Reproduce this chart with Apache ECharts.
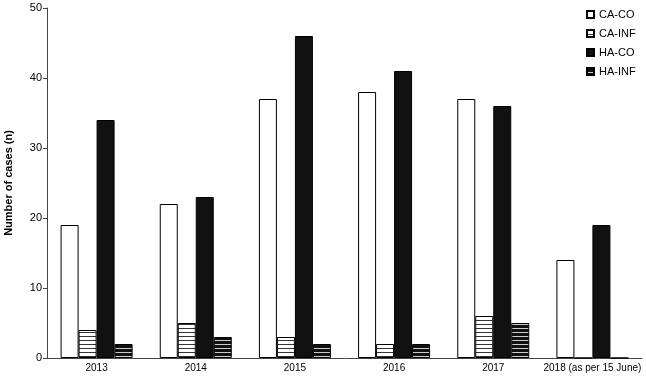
<!DOCTYPE html>
<html>
<head>
<meta charset="utf-8">
<script src="https://cdn.jsdelivr.net/npm/echarts@6/dist/echarts.min.js"></script>
<style>
html, body { margin: 0; padding: 0; background: #fff; }
#chart { width: 646px; height: 377px; }
</style>
</head>
<body>
<div id="chart"></div>
<script>
// data
var years = ['2013', '2014', '2015', '2016', '2017', '2018 (as per 15 June)'];
var caCo = [19, 22, 37, 38, 37, 14];
var caInf = [4, 5, 3, 2, 6, 0];
var haCo = [34, 23, 46, 41, 36, 19];
var haInf = [2, 3, 2, 2, 5, 0];
var yTicks = [0, 10, 20, 30, 40, 50];

// horizontal stripe fill
function stripes(bg, line) {
	var c = document.createElement('canvas');
	c.width = 4;
	c.height = 4;
	var ctx = c.getContext('2d');
	ctx.fillStyle = bg;
	ctx.fillRect(0, 0, 4, 4);
	ctx.fillStyle = line;
	ctx.fillRect(0, 0, 4, 1);
	return { image: c, repeat: 'repeat' };
}

var myChart = echarts.init(document.getElementById('chart'));

function bar(name, data, fill) {
	return {
		name: name,
		type: 'bar',
		data: data,
		barWidth: 18,
		barGap: '0%',
		itemStyle: {
			color: fill,
			borderColor: '#000',
			borderWidth: 1
		}
	};
}

var option = {
	backgroundColor: '#fff',
	animation: false,
	textStyle: { fontFamily: 'Liberation Sans' },
	grid: { left: 47, right: 4, top: 8, bottom: 19, containLabel: false, outerBoundsMode: 'none' },
	legend: {
		orient: 'vertical',
		left: 581,
		top: 4,
		itemGap: 8,
		itemWidth: 7,
		itemHeight: 7,
		icon: 'rect',
		textStyle: { fontSize: 11, color: '#000', fontFamily: 'Liberation Sans' },
		data: ['CA-CO', 'CA-INF', 'HA-CO', 'HA-INF']
	},
	xAxis: {
		type: 'category',
		data: years,
		axisLine: { lineStyle: { color: '#444' } },
		axisTick: { alignWithLabel: false, length: 3, lineStyle: { color: '#444' } },
		axisLabel: { interval: 0, fontSize: 10, color: '#000', margin: 5 }
	},
	yAxis: {
		type: 'value',
		min: yTicks[0],
		max: yTicks[yTicks.length - 1],
		interval: 10,
		name: 'Number of cases (n)',
		nameLocation: 'middle',
		nameGap: 33,
		nameTextStyle: { fontSize: 11, fontWeight: 'bold', color: '#000' },
		axisLine: { show: true, lineStyle: { color: '#444' } },
		axisTick: { show: true, length: 4, lineStyle: { color: '#444' } },
		splitLine: { show: false },
		axisLabel: { fontSize: 11, color: '#000', margin: 5 }
	},
	series: [
		bar('CA-CO', caCo, '#fff'),
		bar('CA-INF', caInf, stripes('#fff', '#333')),
		bar('HA-CO', haCo, '#111'),
		bar('HA-INF', haInf, stripes('#111', '#ccc'))
	]
};
myChart.setOption(option);
</script>
</body>
</html>
